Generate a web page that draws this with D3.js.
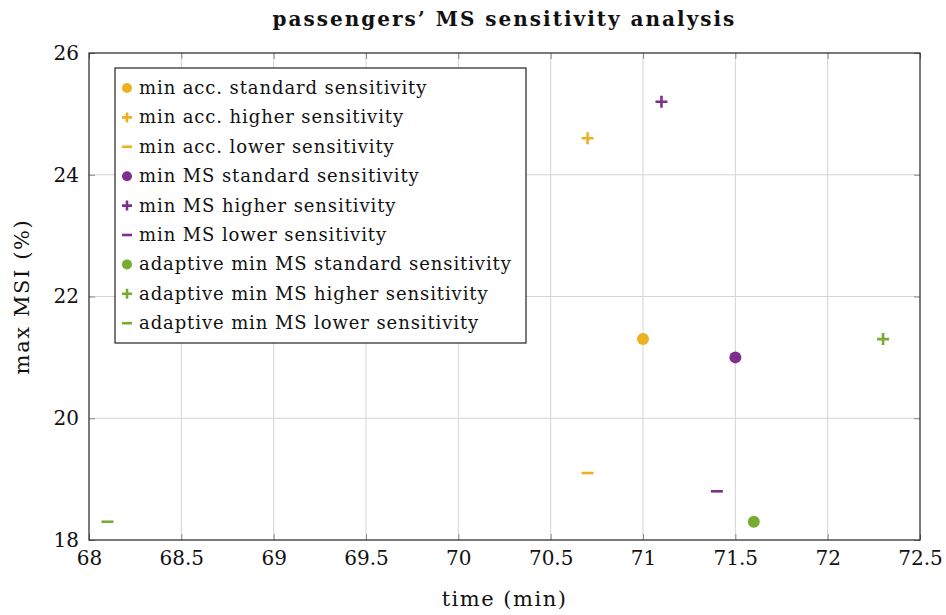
<!DOCTYPE html>
<html>
<head>
<meta charset="utf-8">
<script src="https://cdn.jsdelivr.net/npm/d3@7"></script>
<style>
  body { margin: 0; background: #fff; }
  svg text { font-family: "DejaVu Serif", "Liberation Serif", serif; fill: #111; }
</style>
</head>
<body>
<div id="chart"></div>
<script>
// Series data
var seriesNames = [
  "min acc. standard sensitivity",
  "min acc. higher sensitivity",
  "min acc. lower sensitivity",
  "min MS standard sensitivity",
  "min MS higher sensitivity",
  "min MS lower sensitivity",
  "adaptive min MS standard sensitivity",
  "adaptive min MS higher sensitivity",
  "adaptive min MS lower sensitivity"
];
var timeValues = [71.0, 70.7, 70.7, 71.5, 71.1, 71.4, 71.6, 72.3, 68.1];
var msiValues = [21.3, 24.6, 19.1, 21.0, 25.2, 18.8, 18.3, 21.3, 18.3];
var markerTypes = ["circle", "plus", "minus", "circle", "plus", "minus", "circle", "plus", "minus"];
var seriesColors = ["#EDB120", "#EDB120", "#EDB120", "#7E2F8E", "#7E2F8E", "#7E2F8E", "#77AC30", "#77AC30", "#77AC30"];

var xTicks = [68, 68.5, 69, 69.5, 70, 70.5, 71, 71.5, 72, 72.5];
var yTicks = [18, 20, 22, 24, 26];

var svgWidth = 946;
var svgHeight = 615;
var margin = { top: 53, right: 26, bottom: 75, left: 89 };
var chartWidth = svgWidth - margin.left - margin.right;
var chartHeight = svgHeight - margin.top - margin.bottom;

var svg = d3.select("#chart").append("svg")
  .attr("width", svgWidth)
  .attr("height", svgHeight);

var chartGroup = svg.append("g")
  .attr("transform", `translate(${margin.left}, ${margin.top})`);

var xScale = d3.scaleLinear().domain([68, 72.5]).range([0, chartWidth]);
var yScale = d3.scaleLinear().domain([18, 26]).range([chartHeight, 0]);

// grid lines
chartGroup.append("g")
  .selectAll("line")
  .data(xTicks.slice(1, -1))
  .enter()
  .append("line")
  .attr("x1", d => xScale(d)).attr("x2", d => xScale(d))
  .attr("y1", 0).attr("y2", chartHeight)
  .attr("stroke", "#d4d4d4").attr("stroke-width", 1);

chartGroup.append("g")
  .selectAll("line")
  .data(yTicks.slice(1, -1))
  .enter()
  .append("line")
  .attr("y1", d => yScale(d)).attr("y2", d => yScale(d))
  .attr("x1", 0).attr("x2", chartWidth)
  .attr("stroke", "#d4d4d4").attr("stroke-width", 1);

// axes (ticks inside, pgfplots style)
var bottomAxis = d3.axisBottom(xScale).tickValues(xTicks).tickSize(-6).tickPadding(11)
  .tickFormat(d => String(d));
var leftAxis = d3.axisLeft(yScale).tickValues(yTicks).tickSize(-6).tickPadding(10)
  .tickFormat(d => String(d));
var topAxis = d3.axisTop(xScale).tickValues(xTicks).tickSize(-6).tickFormat("");
var rightAxis = d3.axisRight(yScale).tickValues(yTicks).tickSize(-6).tickFormat("");

var xAxis = chartGroup.append("g")
  .attr("transform", `translate(0, ${chartHeight})`)
  .call(bottomAxis);
var yAxis = chartGroup.append("g").call(leftAxis);
chartGroup.append("g").call(topAxis);
chartGroup.append("g").attr("transform", `translate(${chartWidth}, 0)`).call(rightAxis);

chartGroup.selectAll(".domain").remove();
chartGroup.selectAll(".tick line").attr("stroke", "#8a8a8a");
xAxis.selectAll("text").style("font-size", "20px").attr("fill", "#111");
yAxis.selectAll("text").style("font-size", "20px").attr("fill", "#111");

// frame
chartGroup.append("rect")
  .attr("width", chartWidth).attr("height", chartHeight)
  .attr("fill", "none").attr("stroke", "#222").attr("stroke-width", 1.2);

// draw a marker of a given type
function drawMarker(g, type, color, s) {
  if (type === "circle") {
    g.append("circle").attr("r", s).attr("fill", color);
  } else if (type === "plus") {
    g.append("path").attr("d", `M${-s},0H${s}M0,${-s}V${s}`)
      .attr("stroke", color).attr("stroke-width", 2.6).attr("fill", "none");
  } else {
    g.append("path").attr("d", `M${-s},0H${s}`)
      .attr("stroke", color).attr("stroke-width", 2.6).attr("fill", "none");
  }
}

// points
seriesNames.forEach(function(name, i) {
  var g = chartGroup.append("g")
    .attr("transform", `translate(${xScale(timeValues[i])}, ${yScale(msiValues[i])})`);
  drawMarker(g, markerTypes[i], seriesColors[i], 6);
});

// legend
var legend = chartGroup.append("g").attr("transform", "translate(26, 15)");
legend.append("rect")
  .attr("width", 411).attr("height", 275)
  .attr("fill", "#fff").attr("stroke", "#222").attr("stroke-width", 1.2);

seriesNames.forEach(function(name, i) {
  var row = legend.append("g").attr("transform", `translate(12, ${20 + i * 29.4})`);
  drawMarker(row, markerTypes[i], seriesColors[i], 5);
  row.append("text")
    .attr("x", 12).attr("dy", "0.33em")
    .style("font-size", "18px")
    .style("letter-spacing", "0.9px")
    .text(name);
});

// titles
svg.append("text")
  .attr("x", margin.left + chartWidth / 2).attr("y", 26)
  .attr("text-anchor", "middle")
  .style("font-size", "20px").style("font-weight", "bold")
  .style("letter-spacing", "2px")
  .text("passengers’ MS sensitivity analysis");

svg.append("text")
  .attr("x", margin.left + chartWidth / 2).attr("y", 606)
  .attr("text-anchor", "middle")
  .style("font-size", "21px")
  .style("letter-spacing", "1.5px")
  .text("time (min)");

svg.append("text")
  .attr("transform", `translate(29, ${margin.top + chartHeight / 2}) rotate(-90)`)
  .attr("text-anchor", "middle")
  .style("font-size", "21px")
  .style("letter-spacing", "1.6px")
  .text("max MSI (%)");
</script>
</body>
</html>
